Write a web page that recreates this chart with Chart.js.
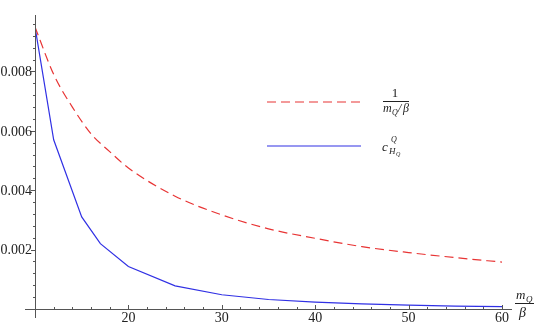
<!DOCTYPE html>
<html>
<head>
<meta charset="utf-8">
<style>
html,body{margin:0;padding:0;background:#fff;}
#c{display:block;}
</style>
<script src="https://cdn.jsdelivr.net/npm/chart.js@4/dist/chart.umd.min.js"></script>
</head>
<body>
<canvas id="c" width="540" height="327"></canvas>
<script>
// ---- data ----
const redX    = [10, 12, 14, 16, 18, 20, 25, 30, 35, 40, 45, 50, 55, 60];
const redY    = [0.0095, 0.0079, 0.0068, 0.0059, 0.0053, 0.00475, 0.0038, 0.00317, 0.0027, 0.00238, 0.0021, 0.0019, 0.00173, 0.00158];
const blueX   = [10, 12, 15, 17, 20, 25, 30, 35, 40, 45, 50, 55, 60];
const blueY   = [0.0095, 0.0057, 0.0031, 0.0022, 0.00143, 0.00078, 0.00048, 0.00032, 0.00023, 0.00017, 0.00013, 0.0001, 0.00008];
const xTicks  = [20, 30, 40, 50, 60];
const xMinor  = [12, 14, 16, 18, 22, 24, 26, 28, 32, 34, 36, 38, 42, 44, 46, 48, 52, 54, 56, 58];
const yTicks  = [0.002, 0.004, 0.006, 0.008];
const yLabels = ["0.002", "0.004", "0.006", "0.008"];
const yMinor  = [0.0004, 0.0008, 0.0012, 0.0016, 0.0024, 0.0028, 0.0032, 0.0036, 0.0044, 0.0048, 0.0052, 0.0056, 0.0064, 0.0068, 0.0072, 0.0076, 0.0084, 0.0088, 0.0092, 0.0096];

const RED = 'rgb(232,52,52)';
const BLUE = 'rgb(48,48,228)';
const SERIF = '"Liberation Serif", "DejaVu Serif", serif';

const axesPlugin = {
  id: 'mmaAxes',
  afterDraw(chart) {
    const ctx = chart.ctx;
    const xs = chart.scales.x, ys = chart.scales.y;
    const x0 = xs.getPixelForValue(10);
    const y0 = ys.getPixelForValue(0);
    ctx.save();
    ctx.strokeStyle = '#555';
    ctx.lineWidth = 1;
    // axis lines
    ctx.beginPath();
    ctx.moveTo(25, Math.round(y0) + 0.5);
    ctx.lineTo(512, Math.round(y0) + 0.5);
    ctx.moveTo(Math.round(x0) + 0.5, 15);
    ctx.lineTo(Math.round(x0) + 0.5, 318);
    ctx.stroke();
    // x ticks (above axis)
    ctx.beginPath();
    xTicks.forEach(v => {
      const p = Math.round(xs.getPixelForValue(v)) + 0.5;
      ctx.moveTo(p, y0); ctx.lineTo(p, y0 - 4);
    });
    xMinor.forEach(v => {
      const p = Math.round(xs.getPixelForValue(v)) + 0.5;
      ctx.moveTo(p, y0); ctx.lineTo(p, y0 - 2);
    });
    // y ticks (left of axis)
    yTicks.forEach(v => {
      const p = Math.round(ys.getPixelForValue(v)) + 0.5;
      ctx.moveTo(x0, p); ctx.lineTo(x0 - 4, p);
    });
    yMinor.forEach(v => {
      const p = Math.round(ys.getPixelForValue(v)) + 0.5;
      ctx.moveTo(x0, p); ctx.lineTo(x0 - 2, p);
    });
    ctx.stroke();
    // tick labels
    ctx.fillStyle = '#222';
    ctx.font = '14px ' + SERIF;
    ctx.textAlign = 'center';
    ctx.textBaseline = 'middle';
    xTicks.forEach(v => {
      ctx.fillText(String(v), xs.getPixelForValue(v), 318);
    });
    ctx.textAlign = 'right';
    yTicks.forEach((v, i) => {
      ctx.fillText(yLabels[i], x0 - 3, ys.getPixelForValue(v) + 1);
    });
    // x axis label  m_Q / β
    ctx.textAlign = 'left';
    ctx.textBaseline = 'alphabetic';
    ctx.font = 'italic 13px ' + SERIF;
    ctx.fillText('m', 516, 299);
    ctx.font = 'italic 9px ' + SERIF;
    ctx.fillText('Q', 526, 302);
    ctx.beginPath();
    ctx.moveTo(515, 303.5); ctx.lineTo(534, 303.5);
    ctx.strokeStyle = '#222';
    ctx.stroke();
    ctx.font = 'italic 14px ' + SERIF;
    ctx.fillText('\u03B2', 519, 317);

    // legend
    ctx.lineWidth = 1.2;
    ctx.strokeStyle = RED;
    ctx.setLineDash([9, 5]);
    ctx.beginPath();
    ctx.moveTo(267, 102); ctx.lineTo(361, 102);
    ctx.stroke();
    ctx.setLineDash([]);
    ctx.strokeStyle = BLUE;
    ctx.beginPath();
    ctx.moveTo(267, 146); ctx.lineTo(361, 146);
    ctx.stroke();

    ctx.fillStyle = '#222';
    ctx.strokeStyle = '#222';
    ctx.lineWidth = 1;
    ctx.font = '13px ' + SERIF;
    ctx.textAlign = 'center';
    ctx.fillText('1', 395, 97);
    ctx.beginPath();
    ctx.moveTo(383, 101.5); ctx.lineTo(409, 101.5);
    ctx.stroke();
    ctx.textAlign = 'left';
    ctx.font = 'italic 12px ' + SERIF;
    ctx.fillText('m', 383, 112);
    ctx.font = 'italic 8px ' + SERIF;
    ctx.fillText('Q', 392, 115);
    ctx.font = 'italic 12px ' + SERIF;
    ctx.fillText('/', 398, 112);
    ctx.fillText('\u03B2', 403, 112);

    ctx.font = 'italic 13px ' + SERIF;
    ctx.fillText('c', 382, 151);
    ctx.font = 'italic 8px ' + SERIF;
    ctx.fillText('Q', 391, 142);
    ctx.font = 'italic 9px ' + SERIF;
    ctx.fillText('H', 389, 154);
    ctx.font = 'italic 6px ' + SERIF;
    ctx.fillText('Q', 396, 156);
    ctx.restore();
  }
};

new Chart(document.getElementById('c'), {
  type: 'scatter',
  data: {
    datasets: [
      {
        label: '1/(mQ/β)',
        data: redX.map((x, i) => ({x: x, y: redY[i]})),
        showLine: true,
        borderColor: RED,
        borderWidth: 1.2,
        borderDash: [9, 5],
        pointRadius: 0,
        cubicInterpolationMode: 'monotone',
        fill: false
      },
      {
        label: 'cQ_HQ',
        data: blueX.map((x, i) => ({x: x, y: blueY[i]})),
        showLine: true,
        borderColor: BLUE,
        borderWidth: 1.2,
        pointRadius: 0,
        tension: 0,
        fill: false
      }
    ]
  },
  options: {
    responsive: false,
    animation: false,
    layout: { padding: { left: 35, right: 38, top: 18, bottom: 18 } },
    plugins: { legend: { display: false }, tooltip: { enabled: false } },
    scales: {
      x: { type: 'linear', min: 10, max: 60, display: false },
      y: { type: 'linear', min: 0, max: 0.0098, display: false }
    }
  },
  plugins: [axesPlugin]
});
</script>
</body>
</html>
